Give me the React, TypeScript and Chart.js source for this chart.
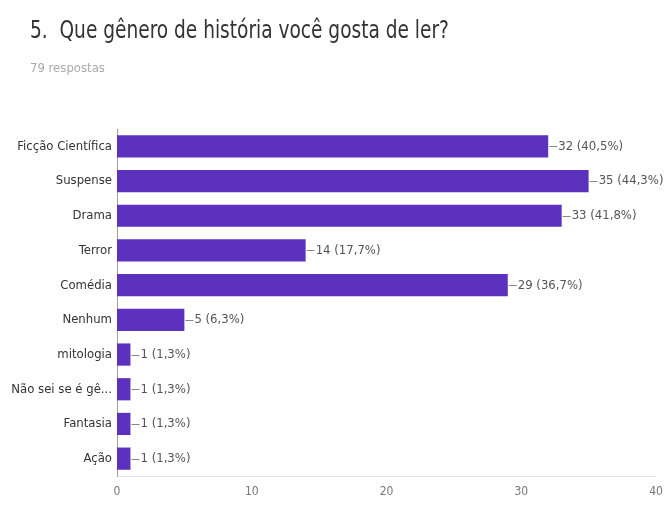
import React, { useEffect, useRef } from "react";
import { Chart, registerables } from "chart.js";

Chart.register(...registerables);

const categories = [
  "Ficção Científica",
  "Suspense",
  "Drama",
  "Terror",
  "Comédia",
  "Nenhum",
  "mitologia",
  "Não sei se é gê...",
  "Fantasia",
  "Ação",
];
const counts = [32, 35, 33, 14, 29, 5, 1, 1, 1, 1];
const percents = ["40,5%", "44,3%", "41,8%", "17,7%", "36,7%", "6,3%", "1,3%", "1,3%", "1,3%", "1,3%"];
const xTicks = [0, 10, 20, 30, 40];
const titleText = "5.  Que gênero de história você gosta de ler?";
const subtitleText = "79 respostas";

const FONT = "'DejaVu Sans Condensed', 'Liberation Sans Narrow', Arial, sans-serif";

const valueLabels = {
  id: "valueLabels",
  afterDatasetsDraw(chart: any) {
    const ctx = chart.ctx;
    const meta = chart.getDatasetMeta(0);
    ctx.save();
    meta.data.forEach((bar: any, i: number) => {
      const x = bar.x;
      const y = bar.y;
      ctx.strokeStyle = "#888";
      ctx.lineWidth = 1;
      ctx.beginPath();
      ctx.moveTo(x + 1, Math.round(y) + 0.5);
      ctx.lineTo(x + 9, Math.round(y) + 0.5);
      ctx.stroke();
      ctx.fillStyle = "#555";
      ctx.font = `13px ${FONT}`;
      ctx.textAlign = "left";
      ctx.textBaseline = "middle";
      ctx.fillText(`${counts[i]} (${percents[i]})`, x + 10, y);
    });
    ctx.restore();
  },
};

export default function App() {
  const ref = useRef<HTMLCanvasElement>(null);
  useEffect(() => {
    document.body.style.margin = "0";
    const chart = new Chart(ref.current!, {
      type: "bar",
      data: {
        labels: categories,
        datasets: [
          {
            data: counts,
            backgroundColor: "#5b31bd",
            categoryPercentage: 0.64,
            barPercentage: 1,
          },
        ],
      },
      options: {
        indexAxis: "y",
        animation: false,
        responsive: false,
        maintainAspectRatio: false,
        layout: { padding: { top: 129, right: 11, bottom: 0, left: 0 } },
        plugins: { legend: { display: false }, tooltip: { enabled: false } },
        scales: {
          x: {
            min: 0,
            max: 40,
            afterFit: (s: any) => {
              s.height = 29;
              s.paddingRight = 0;
              s.paddingLeft = 0;
            },
            afterBuildTicks: (s: any) => {
              s.ticks = xTicks.map((v) => ({ value: v }));
            },
            grid: { display: false, drawTicks: false },
            border: { display: true, color: "#e6e6e6" },
            ticks: { padding: 9, color: "#777", font: { family: FONT, size: 12 } },
          },
          y: {
            afterFit: (s: any) => {
              s.width = 117;
            },
            grid: { display: false, drawTicks: false },
            border: { display: true, color: "#9e9e9e" },
            ticks: { padding: 5, color: "#333", font: { family: FONT, size: 13 } },
          },
        },
      },
      plugins: [valueLabels],
    });
    return () => chart.destroy();
  }, []);

  return (
    <div style={{ position: "relative", width: 667, height: 505, background: "#fff" }}>
      <div
        style={{
          position: "absolute",
          left: 30,
          top: 16,
          fontFamily: FONT,
          fontSize: 24,
          color: "#333",
          whiteSpace: "pre",
          lineHeight: "28px",
          transform: "scaleX(0.86)",
          transformOrigin: "left center",
        }}
      >
        {titleText}
      </div>
      <div
        style={{
          position: "absolute",
          left: 30,
          top: 60,
          fontFamily: FONT,
          fontSize: 13,
          color: "#aaa",
          lineHeight: "16px",
        }}
      >
        {subtitleText}
      </div>
      <canvas ref={ref} width={667} height={505} style={{ display: "block" }} />
    </div>
  );
}
